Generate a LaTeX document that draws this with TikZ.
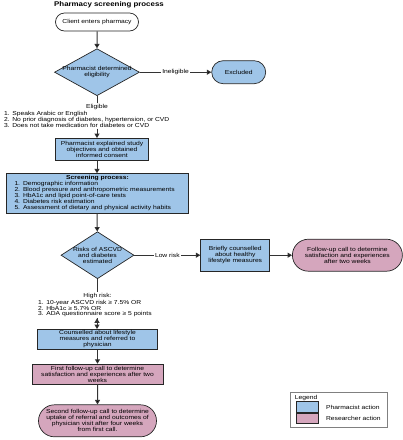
\documentclass[tikz,border=0pt]{standalone}
\usepackage{fontspec}
\setmainfont{Liberation Sans}[FakeStretch=1.16]
\usetikzlibrary{shapes.geometric,shapes.misc,positioning,arrows.meta}
\definecolor{pharmblue}{HTML}{9FC5E8}
\definecolor{respink}{HTML}{D5A6BD}
\tikzset{
  every node/.style={font=\fontsize{5.8}{6}\selectfont, inner sep=1pt},
  box/.style={rectangle, draw=black!85, line width=0.7pt, align=center},
  pharm/.style={box, fill=pharmblue},
  research/.style={box, fill=respink},
  pill/.style={rounded rectangle, draw=black!85, line width=0.7pt, align=center},
  decision/.style={diamond, draw=black!85, line width=0.7pt, fill=pharmblue, inner sep=-2pt, align=center},
  lbl/.style={fill=white, inner sep=1.5pt},
  flow/.style={-{Triangle[width=5pt,length=4.5pt]}, line width=1pt, draw=black!80},
  plain/.style={line width=1pt, draw=black!80}
}

\begin{document}
\begin{tikzpicture}
  \useasboundingbox (0,0) rectangle (403pt,-440pt);
  \coordinate (lm1) at (3pt,0);
  \coordinate (lm2) at (37pt,0);
  \node[font=\bfseries\fontsize{6.8}{7}\selectfont] (title) at (109pt,-4.5pt) {Pharmacy screening process};
  \node[pill, minimum width=85pt, minimum height=18pt] (client) at (97pt,-22pt) {Client enters pharmacy};
  \node[decision, aspect=1.8, minimum width=85pt, minimum height=47pt] (dia1) [below=17pt of client] {Pharmacist determined\\eligibility};
  \node[pill, fill=pharmblue, minimum width=56pt, minimum height=23pt] (excl) [right=71.5pt of dia1] {Excluded};
  \node (elig) [below=7pt of dia1] {Eligible};
  \node[anchor=north west, align=left] (elist) at ([yshift=1pt]elig.south -| lm1) {1. Speaks Arabic or English\\2. No prior diagnosis of diabetes, hypertension, or CVD\\3. Does not take medication for diabetes or CVD};
  \node[pharm, minimum width=93pt, minimum height=22pt] (consent) [below=42pt of dia1, xshift=5pt] {Pharmacist explained study\\objectives and obtained\\informed consent};
  \node[pharm, text width=166pt, inner xsep=8pt, inner ysep=2pt, align=left] (screen) [below=12.5pt of consent, xshift=-4.5pt]
    {\centerline{\textbf{Screening process:}}
     1. Demographic information\\
     2. Blood pressure and anthropometric measurements\\
     3. HbA1c and lipid point-of-care tests\\
     4. Diabetes risk estimation\\
     5. Assessment of dietary and physical activity habits};
  \node[decision, aspect=1.55, minimum width=73pt, minimum height=47pt] (dia2) [below=18pt of screen] {Risks of ASCVD\\and diabetes\\estimated};
  \node[pharm, minimum width=69pt, minimum height=32pt] (brief) [right=66pt of dia2] {Briefly counselled\\about healthy\\lifestyle measures};
  \node[pill, fill=respink, minimum width=112pt, minimum height=32pt] (follow) [right=22pt of brief] {Follow-up call to determine\\satisfaction and experiences\\after two weeks};
  \node (high) [below=13pt of dia2] {High risk:};
  \node[anchor=north west, align=left, font=\fontsize{5.8}{5.3}\selectfont] (hlist) at ([yshift=1pt]high.south -| lm2) {1. 10-year ASCVD risk ≥ 7.5\% OR\\2. HbA1c ≥ 5.7\% OR\\3. ADA questionnaire score ≥ 5 points};
  \node[pharm, minimum width=120pt, minimum height=20pt] (counsel) [below=50pt of dia2] {Counselled about lifestyle\\measures and referred to\\physician};
  \node[research, minimum width=131pt, minimum height=20pt] (call1) [below=14pt of counsel] {First follow-up call to determine\\satisfaction and experiences after two\\weeks};
  \node[pill, fill=respink, minimum width=120pt, minimum height=32pt] (call2) [below=20pt of call1] {Second follow-up call to determine\\uptake of referral and outcomes of\\physician visit after four weeks\\from first call.};
  % legend
  \node[draw=black!50, line width=0.6pt, minimum width=97pt, minimum height=35pt] (legend) at (338.5pt,-409.5pt) {};
  \node[anchor=north west] (legtitle) at ([xshift=4pt,yshift=-2pt]legend.north west) {Legend};
  \node[pharm, minimum width=22pt, minimum height=10.5pt] (swblue) at (307.5pt,-407pt) {};
  \node[research, minimum width=22pt, minimum height=10.5pt] (swpink) [below=0pt of swblue] {};
  \node[anchor=west] (legpharm) [right=6pt of swblue] {Pharmacist action};
  \node[anchor=west] (legres) [right=6pt of swpink] {Researcher action};
  \path[flow]
    (client) edge (dia1)
    (dia1) edge node[lbl] {Ineligible} (excl)
    (elist.south -| client.south) edge (consent.north -| client.south)
    (consent.south -| client.south) edge (screen.north -| client.south)
    (screen.south -| client.south) edge (dia2)
    (dia2) edge node[lbl] {Low risk} (brief)
    (brief) edge (follow)
    (hlist.south -| client.south) edge (counsel.north -| client.south)
    (counsel) edge (call1)
    (call1) edge (call2);
  \path[plain]
    (dia1) edge (elig)
    (dia2) edge (high);
\end{tikzpicture}
\end{document}
